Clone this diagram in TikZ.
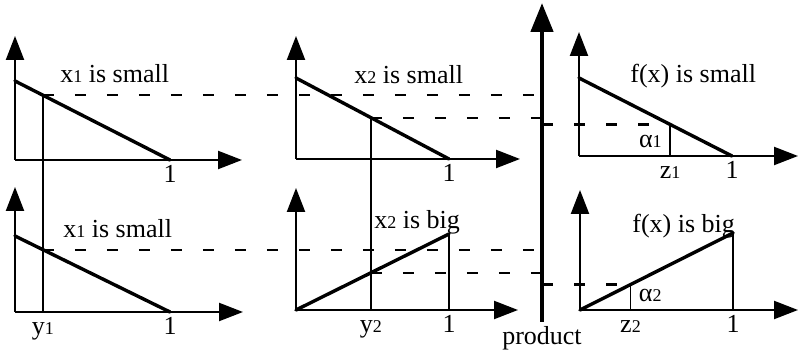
\documentclass[tikz,border=0pt]{standalone}
\usepackage{fontspec}
\setmainfont{Liberation Serif}
\usetikzlibrary{positioning,arrows.meta,calc}
\newcommand{\lowsub}[1]{{\fontsize{9}{9}\selectfont #1}}
\begin{document}
\begin{tikzpicture}[
  x=0.5pt, y=-0.5pt,
  font=\fontsize{13}{15}\selectfont,
  axarrow/.style={-{Triangle[length=12pt,width=9pt]}, line width=1.1pt},
  curve/.style={line width=1.7pt, line cap=round},
  guide/.style={line width=0.8pt},
  proj/.style={line width=1.1pt, dash pattern=on 5.5pt off 10.5pt},
  tickl/.style={anchor=base, yshift=-11.5pt, inner sep=0pt},
  lbl/.style={anchor=base west, inner sep=0pt}
]
\useasboundingbox (0,0) rectangle (798,351);
% top left: x1 is small
\coordinate (oA) at (15,160);
\coordinate (yA) at (15,36);
\coordinate (xA) at (242,160);
\coordinate (sA) at (15,81);
\coordinate (eA) at (170,160);
% bottom left: x1 is small
\coordinate (oB) at (15,312);
\coordinate (yB) at (15,187);
\coordinate (xB) at (243,312);
\coordinate (sB) at (15,236);
\coordinate (eB) at (170,312);
% top middle: x2 is small
\coordinate (oC) at (296,159);
\coordinate (yC) at (296,36);
\coordinate (xC) at (520,159);
\coordinate (sC) at (296,78);
\coordinate (eC) at (449,159);
% bottom middle: x2 is big
\coordinate (oD) at (296,310);
\coordinate (yD) at (296,188);
\coordinate (xD) at (518,310);
\coordinate (eD) at (449,234);
% top right: f(x) is small
\coordinate (oE) at (579,156);
\coordinate (yE) at (579,32);
\coordinate (xE) at (798,156);
\coordinate (sE) at (579,78);
\coordinate (eE) at (732,156);
% bottom right: f(x) is big
\coordinate (oF) at (580,310);
\coordinate (yF) at (580,190);
\coordinate (xF) at (798,310);
\coordinate (eF) at (733,233);
% product axis
\coordinate (pr0) at (542,322);
\coordinate (pr1) at (542,3);
% cut points
\coordinate (pA) at ($(sA)!.18!(eA)$);
\coordinate (pB) at ($(sB)!.18!(eB)$);
\coordinate (pC) at ($(sC)!.49!(eC)$);
\coordinate (pD) at ($(oD)!.49!(eD)$);
\coordinate (pE) at ($(sE)!.595!(eE)$);
\coordinate (pF) at ($(oF)!.33!(eF)$);
\coordinate (fy1) at (pA |- oB);
\coordinate (fy2) at (pC |- oD);
\coordinate (fz1) at (pE |- oE);
\coordinate (fz2) at (pF |- oF);
\coordinate (fD) at (eD |- oD);
\coordinate (fF) at (eF |- oF);
% axes
\draw[axarrow] (oA) -- (yA);
\draw[axarrow] (oA) -- (xA);
\draw[axarrow] (oB) -- (yB);
\draw[axarrow] (oB) -- (xB);
\draw[axarrow] (oC) -- (yC);
\draw[axarrow] (oC) -- (xC);
\draw[axarrow] (oD) -- (yD);
\draw[axarrow] (oD) -- (xD);
\draw[axarrow] (oE) -- (yE);
\draw[axarrow] (oE) -- (xE);
\draw[axarrow] (oF) -- (yF);
\draw[axarrow] (oF) -- (xF);
\draw[line width=2.3pt, -{Triangle[length=14.5pt,width=11pt]}] (pr0) -- (pr1);
% membership lines
\draw[curve] (sA) -- (eA);
\draw[curve] (sB) -- (eB);
\draw[curve] (sC) -- (eC);
\draw[curve] (oD) -- (eD);
\draw[curve] (sE) -- (eE);
\draw[curve] (oF) -- (eF);
% inputs and cuts
\draw[guide] (pA) -- (fy1);
\draw[guide] (pC) -- (fy2);
\draw[guide] (eD) -- (fD);
\draw[guide] (pE) -- (fz1);
\draw[guide] (pF) -- (fz2);
\draw[guide] (eF) -- (fF);
% projections
\draw[proj] (pA) -- (pA -| pr0);
\draw[proj] (pC) -- (pC -| pr0);
\draw[proj] (pE -| pr0) -- (pE);
\draw[proj] (pB) -- (pB -| pr0);
\draw[proj] (pD) -- (pD -| pr0);
\draw[proj] (pF -| pr0) -- (pF);
% labels
\node[lbl] (tA) at (60,83) {x\lowsub{1} is small};
\node[lbl] (tB) at (63,238) {x\lowsub{1} is small};
\node[lbl] (tC) at (354,84) {x\lowsub{2} is small};
\node[lbl] (tD) at (374,229) {x\lowsub{2} is big};
\node[lbl] (tE) at (630,83) {f(x) is small};
\node[lbl] (tF) at (632,233) {f(x) is big};
\node[tickl] (nA) at (eA) {1};
\node[tickl] (nB) at (eB) {1};
\node[tickl] (ny1) at (fy1) {y\lowsub{1}};
\node[tickl] (nC) at (eC) {1};
\node[tickl] (nD) at (fD) {1};
\node[tickl] (ny2) at (fy2) {y\lowsub{2}};
\node[tickl] (nz1) at (fz1) {z\lowsub{1}};
\node[tickl] (nE) at (eE) {1};
\node[tickl] (nz2) at (fz2) {z\lowsub{2}};
\node[tickl] (nF) at (fF) {1};
\node[anchor=south east, inner sep=4pt] (al1) at (fz1) {α\lowsub{1}};
\node[anchor=south west, inner sep=4pt] (al2) at (fz2) {α\lowsub{2}};
\node[below=2pt of pr0, inner sep=0pt] (prod) {product};
\end{tikzpicture}
\end{document}
